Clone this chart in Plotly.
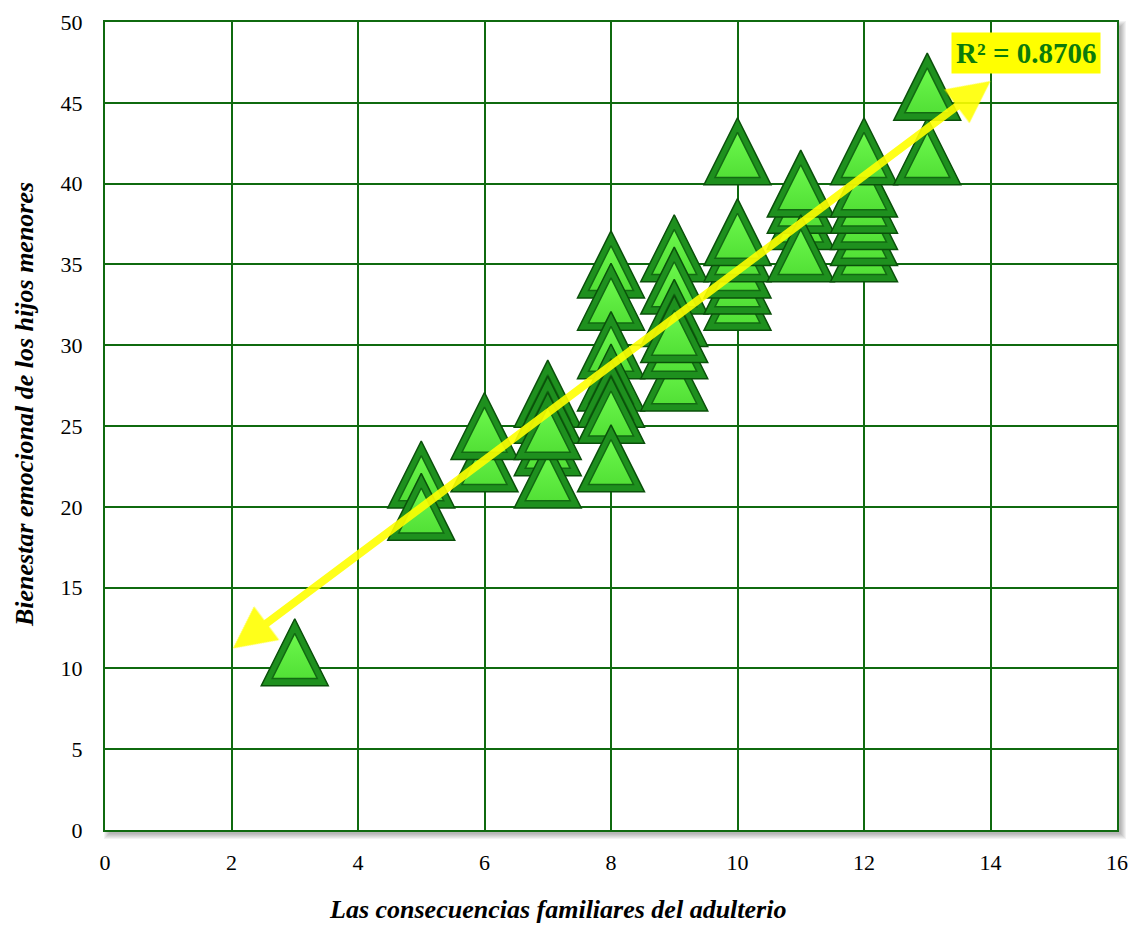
import numpy as np
import plotly.graph_objects as go

# Valores (en el orden en que se dibujan los triángulos)
consecuencias = [3,
                 5, 5,
                 6, 6,
                 7, 7, 7, 7, 7,
                 8, 8, 8, 8, 8, 8, 8,
                 9, 9, 9, 9, 9, 9,
                 10, 10, 10, 10, 10, 10,
                 11, 11, 11, 11,
                 12, 12, 12, 12, 12, 12,
                 13, 13]
bienestar = [11,
             22, 20,
             23, 25,
             27, 26, 24, 22, 25,
             35, 33, 30, 28, 27, 26, 23,
             36, 34, 28, 30, 32, 31,
             33, 34, 35, 36, 37, 42,
             38, 39, 40, 36,
             36, 37, 38, 39, 40, 42,
             42, 46]
r2_texto = "R² = 0.8706"
extremos_tendencia = [2, 14]

titulo_x = "Las consecuencias familiares del adulterio"
titulo_y = "Bienestar emocional de los hijos menores"

FUENTE = "Liberation Serif, Times New Roman, serif"
VERDE_GRID = "#0F6A0F"

# recta de tendencia (mínimos cuadrados)
pend, inter = np.polyfit(consecuencias, bienestar, 1)
y_ext = [pend * v + inter for v in extremos_tendencia]

fig = go.Figure()

# triángulos con efecto biselado: uno exterior oscuro y otro interior claro
T_EXT, T_INT = 67, 45
r_ext, r_int = T_EXT / 2, T_INT / 2
standoff_int = 4 * r_int / 3 - r_ext / 3

for xi, yi in zip(consecuencias, bienestar):
    fig.add_trace(go.Scatter(
        x=[xi], y=[yi], mode='markers',
        marker=dict(symbol='arrow-down', angle=180, standoff=r_ext, size=T_EXT,
                    color='#1E901E', line=dict(color='#0A500A', width=1.5)),
        hoverinfo='skip', showlegend=False, cliponaxis=False
    ))
    fig.add_trace(go.Scatter(
        x=[xi], y=[yi], mode='markers',
        marker=dict(symbol='arrow-down', angle=180, standoff=standoff_int, size=T_INT,
                    color='#6CF84C', line=dict(color='#126A12', width=1.5),
                    gradient=dict(type='vertical', color='#52E036')),
        hoverinfo='skip', showlegend=False, cliponaxis=False
    ))

# flecha doble amarilla de la tendencia
fig.add_annotation(
    x=extremos_tendencia[1], y=y_ext[1], ax=extremos_tendencia[0], ay=y_ext[0],
    xref='x', yref='y', axref='x', ayref='y', text='',
    showarrow=True, arrowside='end+start',
    arrowhead=2, startarrowhead=2, arrowsize=1.05, startarrowsize=1.05,
    arrowwidth=8, arrowcolor='rgba(255,255,0,0.9)'
)

# etiqueta R²
fig.add_annotation(
    x=14.56, y=48.08, xref='x', yref='y', text=f"<b>{r2_texto}</b>",
    showarrow=False, bgcolor='#FFFF00', borderpad=4,
    font=dict(family=FUENTE, size=29, color='#0B7A0B')
)

# títulos de los ejes (desplazados como en el original)
fig.add_annotation(
    x=0.4476, y=-0.099, xref='paper', yref='paper', showarrow=False,
    text=f"<b><i>{titulo_x}</i></b>", xanchor='center', yanchor='middle',
    font=dict(family=FUENTE, size=26, color='black')
)
fig.add_annotation(
    x=-0.079, y=0.526, xref='paper', yref='paper', showarrow=False,
    text=f"<b><i>{titulo_y}</i></b>", textangle=-90, xanchor='center', yanchor='middle',
    font=dict(family=FUENTE, size=26, color='black')
)

# sombra del área de trazado
px_x, px_y = 1 / 1012, 1 / 808
formas = []
for k in range(6):
    formas.append(dict(type='rect', xref='paper', yref='paper', layer='below',
                       x0=(4 - k) * px_x, x1=1 + (4 + k) * px_x,
                       y0=-(4 + k) * px_y, y1=1 - (4 - k) * px_y,
                       fillcolor='rgba(0,0,0,0.05)', line=dict(width=0)))
formas.append(dict(type='rect', xref='paper', yref='paper', layer='below',
                   x0=0, x1=1, y0=0, y1=1, fillcolor='white', line=dict(width=0)))

fig.update_layout(
    width=1145, height=933,
    paper_bgcolor='white', plot_bgcolor='rgba(0,0,0,0)',
    margin=dict(l=97, r=36, t=14, b=111, autoexpand=False),
    font=dict(family=FUENTE, size=22, color='black'),
    shapes=formas,
    xaxis=dict(
        range=[0, 16], dtick=2, showgrid=True, gridcolor=VERDE_GRID, gridwidth=2,
        zeroline=False, showline=True, linecolor=VERDE_GRID, linewidth=2, mirror=True,
        ticks='outside', ticklen=12, tickcolor='rgba(0,0,0,0)', automargin=False,
        tickfont=dict(family=FUENTE, size=22, color='black')
    ),
    yaxis=dict(
        range=[0, 50], dtick=5, showgrid=True, gridcolor=VERDE_GRID, gridwidth=2,
        zeroline=False, showline=True, linecolor=VERDE_GRID, linewidth=2, mirror=True,
        ticks='outside', ticklen=16, tickcolor='rgba(0,0,0,0)', automargin=False,
        tickfont=dict(family=FUENTE, size=22, color='black')
    ),
)

fig.write_html("out.html")
